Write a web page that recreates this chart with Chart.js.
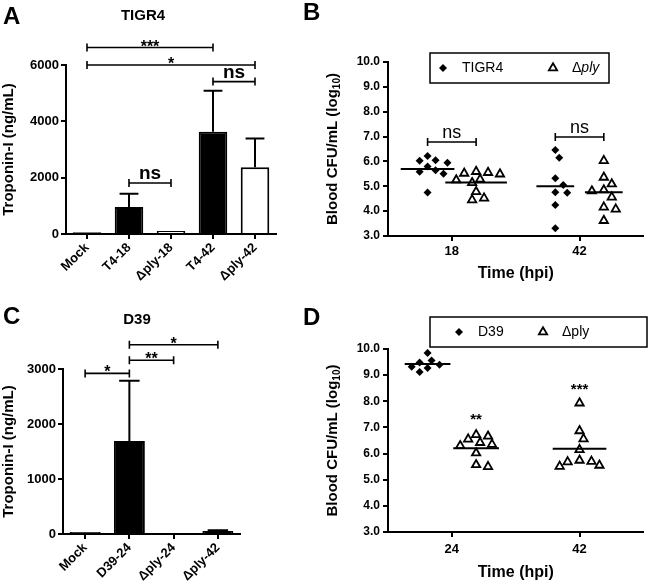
<!DOCTYPE html>
<html lang="en">
<head>
<meta charset="utf-8">
<title>Troponin-I and bacteremia</title>
<script src="https://cdn.jsdelivr.net/npm/chart.js@4.4.1/dist/chart.umd.min.js"></script>
<style>
  html, body { margin: 0; padding: 0; background: #fff; }
  #fig { position: relative; width: 650px; height: 582px; overflow: hidden;
         font-family: "Liberation Sans", Arial, Helvetica, sans-serif; color: #000; }
  #fig canvas { position: absolute; }
  .tag { position: absolute; font-size: 24px; line-height: 24px; font-weight: bold; }
  .ttl { position: absolute; font-size: 15px; line-height: 15px; font-weight: bold;
         transform: translateX(-50%); white-space: nowrap; }
</style>
</head>
<body>
<div id="fig">
  <canvas id="chartA" width="320" height="290" style="left:0;top:0"></canvas>
  <canvas id="chartB" width="330" height="290" style="left:320px;top:0"></canvas>
  <canvas id="chartC" width="320" height="292" style="left:0;top:290px"></canvas>
  <canvas id="chartD" width="330" height="292" style="left:320px;top:290px"></canvas>
  <div class="tag" style="left:3px;top:4px">A</div>
  <div class="tag" style="left:303px;top:0">B</div>
  <div class="tag" style="left:3px;top:304px">C</div>
  <div class="tag" style="left:303px;top:305px">D</div>
  <div class="ttl" style="left:143px;top:7px">TIGR4</div>
  <div class="ttl" style="left:137px;top:311px">D39</div>
</div>
<script>
const FAMILY = '"Liberation Sans", Arial, Helvetica, sans-serif';
Chart.defaults.font.family = FAMILY;
Chart.defaults.color = '#000';
Chart.defaults.animation = false;
Chart.defaults.plugins.legend.display = false;
Chart.defaults.plugins.tooltip.enabled = false;

// --- A: troponin-I, TIGR4 ---
const catsA = ['Mock', 'T4-18', 'Δply-18', 'T4-42', 'Δply-42'];
const meanA = [60, 960, 110, 3630, 2370];
const semA = [0, 470, 0, 1460, 1020];
const sigA = [[0, 3, 6620, '***'], [0, 4, 6000, '*'], [3, 4, 5410, 'ns'], [1, 2, 1810, 'ns']];
const yTicksA = [0, 2000, 4000, 6000];

// --- C: troponin-I, D39 ---
const catsC = ['Mock', 'D39-24', 'Δply-24', 'Δply-42'];
const meanC = [35, 1690, 0, 55];
const semC = [0, 1095, 0, 15];
const sigC = [[0, 1, 2920, '*'], [1, 2, 3160, '**'], [1, 3, 3440, '*']];
const yTicksC = [0, 1000, 2000, 3000];

// --- B: blood CFU, TIGR4 vs ply mutant ---
const hpiB = ['18', '42'];
const tigr4B = [[6.22, 6.05, 6.03, 5.95, 5.80, 5.65, 5.58, 5.50, 4.75],
                [6.46, 6.15, 5.32, 5.05, 4.76, 4.74, 4.25, 3.31]];
const plyB = [[5.59, 5.55, 5.52, 5.49, 5.28, 5.25, 5.14, 4.78, 4.52, 4.45],
              [6.03, 5.36, 5.09, 4.85, 4.81, 4.56, 4.16, 4.08, 3.62]];
const lineTigr4B = [5.70, 5.00];
const linePlyB = [5.15, 4.76];
const sigB = [[0, 6.78, 'ns'], [1, 6.98, 'ns']];

// --- D: blood CFU, D39 vs ply mutant ---
const hpiD = ['24', '42'];
const d39D = [[9.85, 9.56, 9.48, 9.40, 9.32, 9.27, 9.12], []];
const plyD = [[6.72, 6.66, 6.55, 6.42, 6.35, 6.30, 6.02, 5.57, 5.50],
              [7.93, 6.87, 6.56, 6.15, 5.74, 5.70, 5.68, 5.55, 5.51]];
const lineD39D = [9.43, null];
const linePlyD = [6.20, 6.18];
const starsD = [[0, 7.45, '**'], [1, 8.61, '***']];

const yTicksCFU = [3, 4, 5, 6, 7, 8, 9, 10];

const SUB_OFF = 0.19;   // series offset inside a time group, x units
const X_PX = 128.5;     // approx px per x unit on the dot plots

const axisGrid = { drawOnChartArea: false, color: '#000', lineWidth: 2, tickLength: 5, offset: false };
const axisBorder = { color: '#000', width: 2 };

// spread points sideways when they would overlap (like a dot plot)
function swarm(vals, pxY) {
  const placed = [];
  return vals.map(v => {
    const py = v * pxY;
    let off = 0;
    for (let k = 0; k < 30; k++) {
      off = k === 0 ? 0 : (k % 2 ? 1 : -1) * Math.ceil(k / 2) * 4;
      if (placed.every(p => Math.hypot(p[0] - off, p[1] - py) >= 8.5)) break;
    }
    placed.push([off, py]);
    return off;
  });
}

function marker(ctx, style, x, y) {
  ctx.beginPath();
  if (style === 'rectRot') {
    ctx.moveTo(x, y - 4); ctx.lineTo(x + 4, y); ctx.lineTo(x, y + 4); ctx.lineTo(x - 4, y);
    ctx.closePath(); ctx.fill();
  } else {
    const r = 4.8;
    ctx.moveTo(x, y - r); ctx.lineTo(x + r * 0.866, y + r / 2); ctx.lineTo(x - r * 0.866, y + r / 2);
    ctx.closePath(); ctx.lineWidth = 1.8; ctx.stroke();
  }
}

const errorBars = {
  id: 'errorBars',
  afterDatasetsDraw(chart, args, o) {
    const { ctx, scales: { y } } = chart;
    const meta = chart.getDatasetMeta(0);
    ctx.save();
    ctx.strokeStyle = '#000'; ctx.lineWidth = 2;
    o.means.forEach((m, i) => {
      const e = o.sems[i];
      if (!e) return;
      const bar = meta.data[i];
      const y0 = y.getPixelForValue(m), y1 = y.getPixelForValue(m + e), hw = bar.width * 0.33;
      ctx.beginPath();
      ctx.moveTo(bar.x, y0); ctx.lineTo(bar.x, y1);
      ctx.moveTo(bar.x - hw, y1); ctx.lineTo(bar.x + hw, y1);
      ctx.stroke();
    });
    ctx.restore();
  }
};

const brackets = {
  id: 'brackets',
  afterDraw(chart, args, o) {
    if (!o.items) return;
    const { ctx, scales: { x, y } } = chart;
    ctx.save();
    ctx.strokeStyle = '#000'; ctx.fillStyle = '#000'; ctx.lineWidth = 1.6; ctx.textAlign = 'center';
    o.items.forEach(([a, b, v, t]) => {
      const xa = x.getPixelForValue(a), xb = x.getPixelForValue(b), yy = y.getPixelForValue(v);
      ctx.beginPath();
      ctx.moveTo(xa, yy - 4); ctx.lineTo(xa, yy + 4);
      ctx.moveTo(xb, yy - 4); ctx.lineTo(xb, yy + 4);
      ctx.moveTo(xa, yy); ctx.lineTo(xb, yy);
      ctx.stroke();
      const star = t[0] === '*';
      ctx.font = (o.bold ? 'bold ' : '') + (star ? o.star : o.ns) + 'px ' + FAMILY;
      ctx.fillText(t, (xa + xb) / 2, star ? yy + 4 : yy - 4);
    });
    ctx.restore();
  }
};

const notes = {
  id: 'notes',
  afterDraw(chart, args, o) {
    if (!o.items) return;
    const { ctx, scales: { x, y } } = chart;
    ctx.save();
    ctx.fillStyle = '#000'; ctx.textAlign = 'center';
    ctx.font = 'bold ' + o.size + 'px ' + FAMILY;
    o.items.forEach(([xv, v, t]) => {
      ctx.fillText(t, x.getPixelForValue(xv), y.getPixelForValue(v) + o.size * 0.58);
    });
    ctx.restore();
  }
};

const yTitleSub = {
  id: 'yTitleSub',
  afterDraw(chart, args, o) {
    if (!o.main) return;
    const { ctx, chartArea } = chart;
    const big = 'bold 15px ' + FAMILY, small = 'bold 10px ' + FAMILY;
    ctx.save();
    ctx.font = big;
    const w1 = ctx.measureText(o.main).width, w3 = ctx.measureText(')').width;
    ctx.font = small;
    const w2 = ctx.measureText(o.sub).width;
    ctx.translate(o.x, (chartArea.top + chartArea.bottom) / 2);
    ctx.rotate(-Math.PI / 2);
    ctx.fillStyle = '#000'; ctx.textBaseline = 'middle'; ctx.textAlign = 'left';
    const sx = -(w1 + w2 + w3) / 2;
    ctx.font = big; ctx.fillText(o.main, sx, 0);
    ctx.font = small; ctx.fillText(o.sub, sx + w1, 4);
    ctx.font = big; ctx.fillText(')', sx + w1 + w2, 0);
    ctx.restore();
  }
};

const boxLegend = {
  id: 'boxLegend',
  afterDraw(chart, args, o) {
    if (!o.items) return;
    const ctx = chart.ctx;
    ctx.save();
    ctx.strokeStyle = '#000'; ctx.fillStyle = '#000'; ctx.lineWidth = 1.5;
    ctx.strokeRect(o.x, o.y, o.w, o.h);
    const cy = o.y + o.h / 2;
    o.items.forEach(it => {
      marker(ctx, it.style, it.mx, cy);
      let tx = it.tx;
      ctx.textBaseline = 'middle'; ctx.textAlign = 'left';
      it.text.forEach(([str, st]) => {
        ctx.font = (st + ' 14px ' + FAMILY).trim();
        ctx.fillText(str, tx, cy);
        tx += ctx.measureText(str).width;
      });
    });
    ctx.restore();
  }
};

function barChart(id, cats, means, sems, fills, sig, yTicks, box) {
  return new Chart(document.getElementById(id), {
    type: 'bar',
    data: {
      labels: cats,
      datasets: [{ data: means, backgroundColor: fills, borderColor: '#000', borderWidth: 2,
                   categoryPercentage: 1, barPercentage: box.bar }]
    },
    options: {
      responsive: false, events: [],
      layout: { padding: { top: box.top, right: box.right, left: 0, bottom: 0 } },
      plugins: {
        errorBars: { means, sems },
        brackets: { items: sig, bold: true, star: 16, ns: 19 }
      },
      scales: {
        x: {
          grid: axisGrid, border: axisBorder,
          ticks: { font: { size: 13, weight: 'bold' }, minRotation: 45, maxRotation: 45, autoSkip: false, padding: 1 },
          afterFit: s => { s.height = box.xh; }
        },
        y: {
          min: yTicks[0], max: yTicks[yTicks.length - 1],
          grid: axisGrid, border: axisBorder,
          afterBuildTicks: s => { s.ticks = yTicks.map(v => ({ value: v })); },
          ticks: { font: { size: 13, weight: 'bold' }, padding: 2, callback: v => String(v) },
          title: { display: true, text: 'Troponin-I (ng/mL)', font: { size: 15, weight: 'bold' }, padding: 0 },
          afterFit: s => { s.width = box.yw; }
        }
      }
    },
    plugins: [errorBars, brackets]
  });
}

function dotChart(id, groups, series, sig, stars, legend, box) {
  // x centre of each series in each group
  const centers = series.map(() => []);
  groups.forEach((g, gi) => {
    const both = series.every(s => s.vals[gi].length > 0);
    series.forEach((s, si) => { centers[si][gi] = gi + (both ? (si === 0 ? -SUB_OFF : SUB_OFF) : 0); });
  });
  const datasets = [];
  series.forEach((s, si) => {
    const pts = [];
    s.vals.forEach((vals, gi) => {
      if (!vals.length) return;
      const c = centers[si][gi];
      const offs = swarm(vals, box.pxY);
      vals.forEach((v, i) => pts.push({ x: c + offs[i] / X_PX, y: v }));
      const m = s.line[gi];
      if (m != null) {
        const hw = (Math.max(...offs.map(Math.abs)) + 7) / X_PX;
        datasets.push({ type: 'line', data: [{ x: c - hw, y: m }, { x: c + hw, y: m }],
          borderColor: '#000', borderWidth: 2, pointRadius: 0, showLine: true, order: 0 });
      }
    });
    datasets.push({
      type: 'scatter', data: pts, order: 1,
      pointStyle: s.style, pointRadius: s.style === 'rectRot' ? 4 : 4.8,
      pointBackgroundColor: s.style === 'rectRot' ? '#000' : 'rgba(255,255,255,0)',
      pointBorderColor: '#000', pointBorderWidth: s.style === 'rectRot' ? 0 : 1.8
    });
  });
  return new Chart(document.getElementById(id), {
    type: 'scatter',
    data: { datasets },
    options: {
      responsive: false, events: [],
      layout: { padding: { top: box.top, right: box.right, left: 0, bottom: 0 } },
      plugins: {
        yTitleSub: { x: box.titleX, main: 'Blood CFU/mL (log', sub: '10' },
        boxLegend: legend,
        brackets: { items: sig.map(([gi, v, t]) => [centers[0][gi], centers[1][gi], v, t]), bold: false, star: 16, ns: 18 },
        notes: { items: stars.map(([gi, v, t]) => [centers[1][gi], v, t]), size: 15 }
      },
      scales: {
        x: {
          type: 'linear', min: -0.5, max: 1.5, grid: axisGrid, border: axisBorder,
          afterBuildTicks: s => { s.ticks = groups.map((g, i) => ({ value: i })); },
          ticks: { font: { size: 13, weight: 'bold' }, padding: box.xpad, callback: v => groups[v] },
          title: { display: true, text: 'Time (hpi)', font: { size: 16, weight: 'bold' }, padding: { top: 0, bottom: box.tpad } },
          afterFit: s => { s.height = box.xh; }
        },
        y: {
          min: 3, max: 10, grid: axisGrid, border: axisBorder,
          afterBuildTicks: s => { s.ticks = yTicksCFU.map(v => ({ value: v })); },
          ticks: { font: { size: 12, weight: 'bold' }, padding: 3, callback: v => v.toFixed(1) },
          afterFit: s => { s.width = box.yw; }
        }
      }
    },
    plugins: [yTitleSub, boxLegend, brackets, notes]
  });
}

barChart('chartA', catsA, meanA, semA, ['#000', '#000', '#fff', '#000', '#fff'], sigA, yTicksA,
  { top: 65, right: 44, yw: 66, xh: 56, bar: 0.68 });

barChart('chartC', catsC, meanC, semC, ['#000', '#000', '#000', '#000'], sigC, yTicksC,
  { top: 79, right: 80, yw: 63, xh: 48, bar: 0.7 });

dotChart('chartB', hpiB,
  [{ vals: tigr4B, line: lineTigr4B, style: 'rectRot' }, { vals: plyB, line: linePlyB, style: 'triangle' }],
  sigB, [],
  { x: 110, y: 53, w: 179, h: 30, items: [
    { style: 'rectRot', mx: 123, tx: 142, text: [['TIGR4', '']] },
    { style: 'triangle', mx: 233, tx: 252, text: [['Δ', ''], ['ply', 'italic']] } ] },
  { top: 62, right: 5, yw: 68, xh: 54, xpad: 3, tpad: 7, titleX: 13, pxY: 24.9 });

dotChart('chartD', hpiD,
  [{ vals: d39D, line: lineD39D, style: 'rectRot' }, { vals: plyD, line: linePlyD, style: 'triangle' }],
  [], starsD,
  { x: 110, y: 27, w: 217, h: 30, items: [
    { style: 'rectRot', mx: 139, tx: 158, text: [['D39', '']] },
    { style: 'triangle', mx: 223, tx: 242, text: [['Δply', '']] } ] },
  { top: 59, right: 5, yw: 68, xh: 50, xpad: 5, tpad: 0, titleX: 13, pxY: 26.1 });
</script>
</body>
</html>
